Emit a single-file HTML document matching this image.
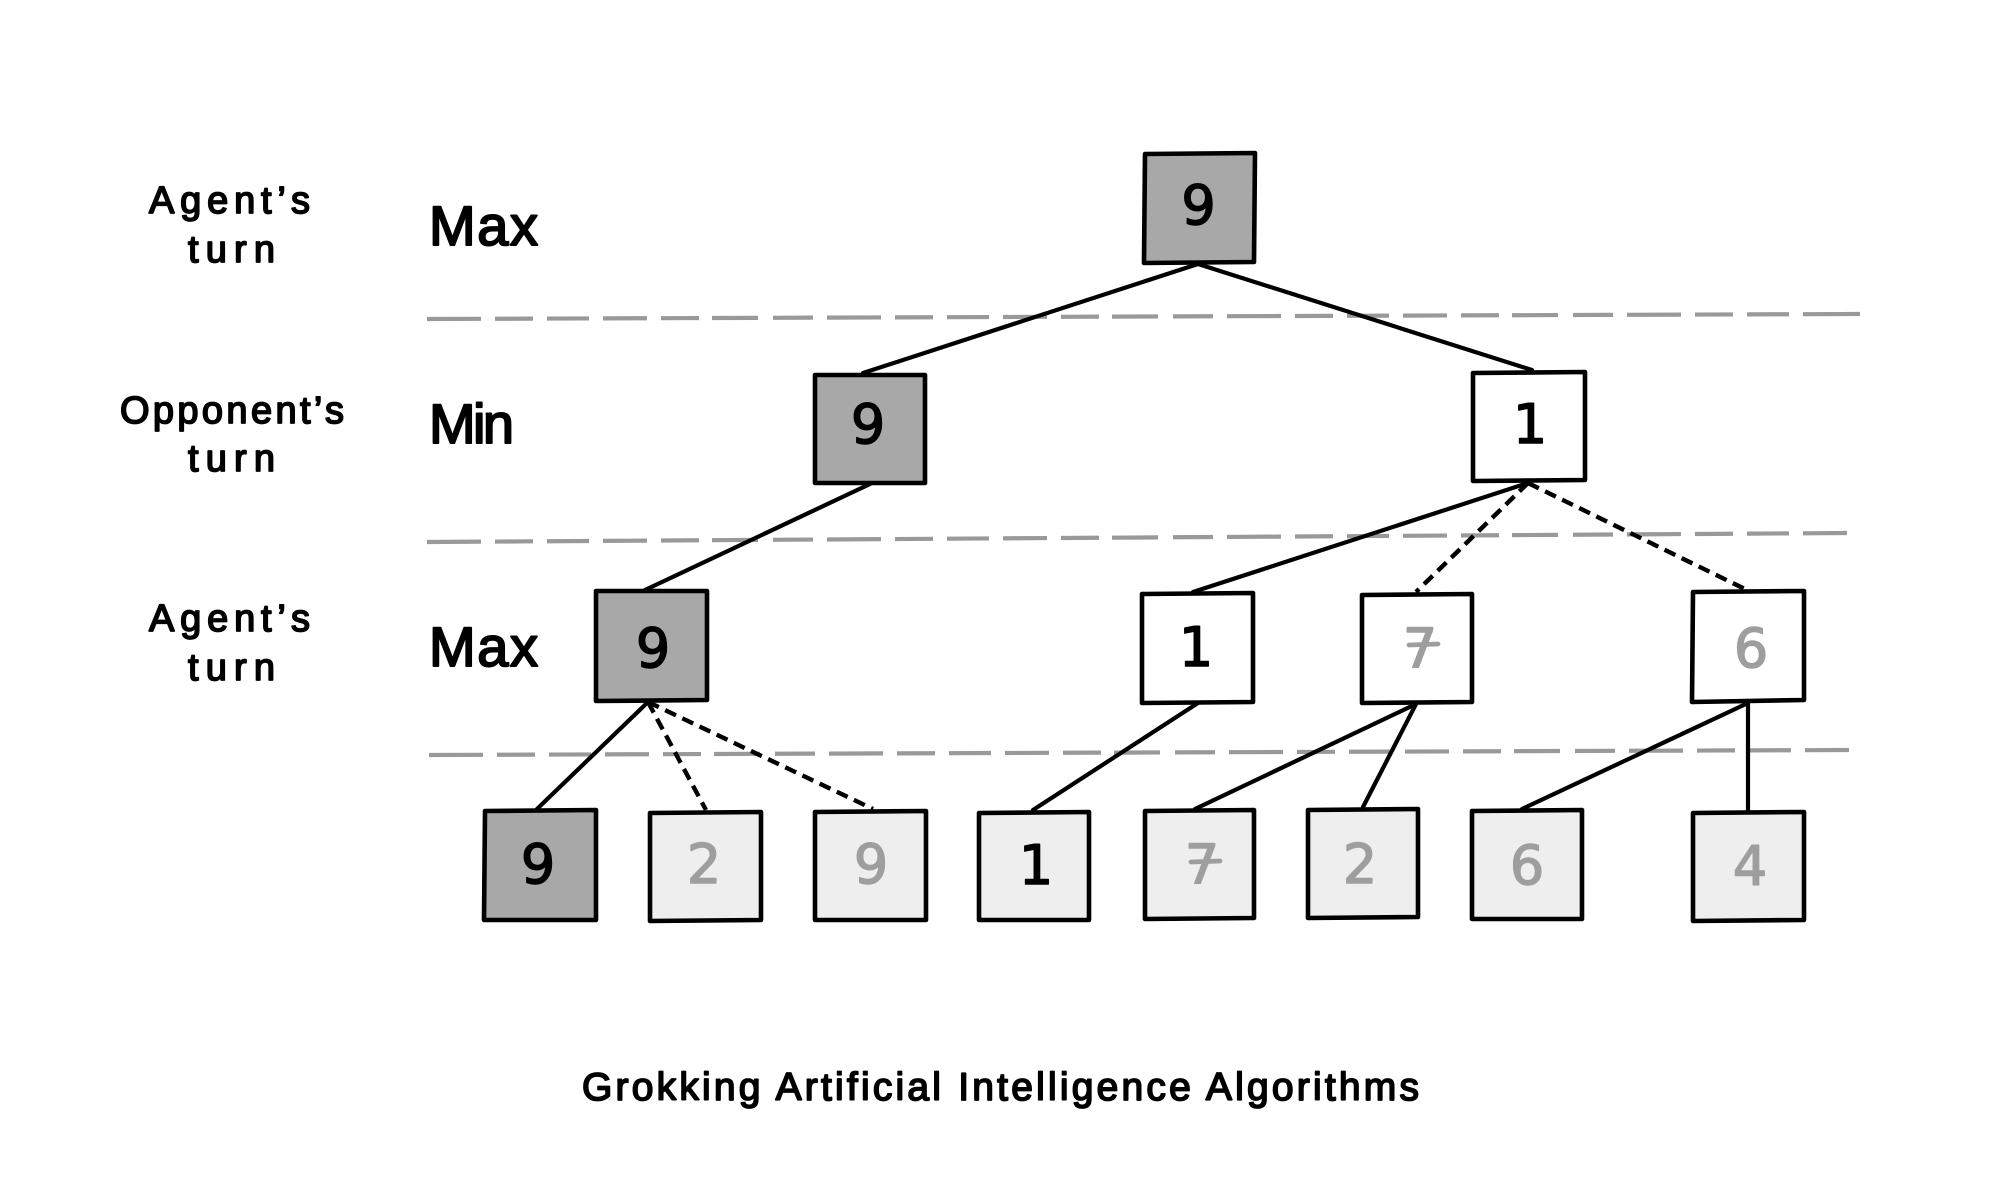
<!DOCTYPE html>
<html><head><meta charset="utf-8"><title>Minimax tree</title>
<style>
html,body{margin:0;padding:0;background:#fff}
svg{display:block}
.b{stroke:#000;stroke-width:4.6;stroke-linejoin:round}
.d{fill:#a8a8a8}.l{fill:#eeeeee}.w{fill:#fff}
.g{fill:none;stroke:#999;stroke-width:4.2;stroke-dasharray:54 14 38 14 42 14 44 14 38 13 46 15 40 14}
.g2{fill:none;stroke:#999;stroke-width:4.2}
.s{fill:none;stroke:#000;stroke-width:4.2;stroke-linecap:round}
.h{fill:none;stroke:#000;stroke-width:4.4;stroke-dasharray:12 7}
text{font-family:"Liberation Sans",sans-serif;fill:#000;stroke:#000;stroke-width:1.7;stroke-linejoin:round}
.n{font-family:"DejaVu Sans",sans-serif;font-size:54px;stroke-width:1.5;text-anchor:middle}
.y{fill:#9e9e9e;stroke:#9e9e9e}
.c{stroke:#9e9e9e;stroke-width:4.8;stroke-linecap:round;fill:none}
.big{stroke-width:2}
</style></head><body>
<svg width="2000" height="1194" viewBox="0 0 2000 1194" xmlns="http://www.w3.org/2000/svg">
<rect width="2000" height="1194" fill="#fff"/>

<path class="g" d="M427 319L1860 314"/>
<path class="g2" d="M1846 314L1860 314"/>
<path class="g" d="M427 542L1850 533"/>
<path class="g" d="M429 755L1852 750"/>

<path class="s" d="M1198 264L863 373"/>
<path class="s" d="M1198 264L1532 370"/>
<path class="s" d="M870 484L645 590"/>
<path class="s" d="M1528 483L1193 592"/>
<path class="h" d="M1528 483L1416 592"/>
<path class="h" d="M1528 483L1751 592"/>
<path class="s" d="M648 702L537 809"/>
<path class="h" d="M648 702L706 810"/>
<path class="h" d="M648 702L873 809"/>
<path class="s" d="M1198 703L1033 810"/>
<path class="s" d="M1416 704L1195 809"/>
<path class="s" d="M1416 704L1363 807"/>
<path class="s" d="M1748 703L1522 809"/>
<path class="s" d="M1748 703L1748 811"/>

<polygon class="b d" points="1145,154 1255,153 1254,262 1144,263"/>
<polygon class="b d" points="815,375 925,375 925,483 815,483"/>
<polygon class="b w" points="1473,373 1585,372 1585,480 1473,481"/>
<polygon class="b d" points="596,591 707,591 707,700 596,701"/>
<polygon class="b w" points="1142,594 1253,593 1253,702 1142,703"/>
<polygon class="b w" points="1362,595 1472,594 1472,702 1362,703"/>
<polygon class="b w" points="1693,592 1804,591 1804,700 1692,702"/>
<polygon class="b d" points="485,811 596,810 596,920 484,920"/>
<polygon class="b l" points="650,813 761,812 761,920 650,921"/>
<polygon class="b l" points="815,812 926,811 926,920 815,920"/>
<polygon class="b l" points="979,813 1089,812 1089,920 979,920"/>
<polygon class="b l" points="1145,811 1254,810 1254,918 1145,919"/>
<polygon class="b l" points="1308,810 1418,809 1418,917 1308,918"/>
<polygon class="b l" points="1472,811 1582,810 1582,919 1472,919"/>
<polygon class="b l" points="1693,813 1804,812 1804,920 1693,921"/>

<text class="n" x="1198.5" y="224">9</text>
<text class="n" x="868" y="443">9</text>
<text class="n" x="1530" y="443">1</text>
<text class="n" x="653" y="667">9</text>
<text class="n" x="1196" y="666">1</text>
<text class="n y" x="1420" y="667">7</text>
<path class="c" d="M1409 645L1438 644"/>
<text class="n y" x="1751" y="667">6</text>
<text class="n" x="538" y="883">9</text>
<text class="n y" x="704" y="883">2</text>
<text class="n y" x="871" y="883">9</text>
<text class="n" x="1036" y="884">1</text>
<text class="n y" x="1202" y="883">7</text>
<path class="c" d="M1191 862L1220 861"/>
<text class="n y" x="1360" y="883">2</text>
<text class="n y" x="1527" y="884">6</text>
<text class="n y" x="1750" y="885">4</text>

<text x="149" y="213" font-size="38" textLength="161" lengthAdjust="spacing">Agent’s</text>
<text x="188" y="262" font-size="38" textLength="87" lengthAdjust="spacing">turn</text>
<text x="120" y="423" font-size="38" textLength="224" lengthAdjust="spacing">Opponent’s</text>
<text x="188" y="471" font-size="38" textLength="87" lengthAdjust="spacing">turn</text>
<text x="149" y="631" font-size="38" textLength="161" lengthAdjust="spacing">Agent’s</text>
<text x="188" y="680" font-size="38" textLength="87" lengthAdjust="spacing">turn</text>

<text class="big" x="429" y="245" font-size="56" textLength="109" lengthAdjust="spacing">Max</text>
<text class="big" x="429" y="443" font-size="56" textLength="85" lengthAdjust="spacing">Min</text>
<text class="big" x="429" y="666" font-size="56" textLength="109" lengthAdjust="spacing">Max</text>

<text x="582" y="1100" font-size="39" textLength="837" lengthAdjust="spacing">Grokking Artificial Intelligence Algorithms</text>
</svg>
</body></html>
